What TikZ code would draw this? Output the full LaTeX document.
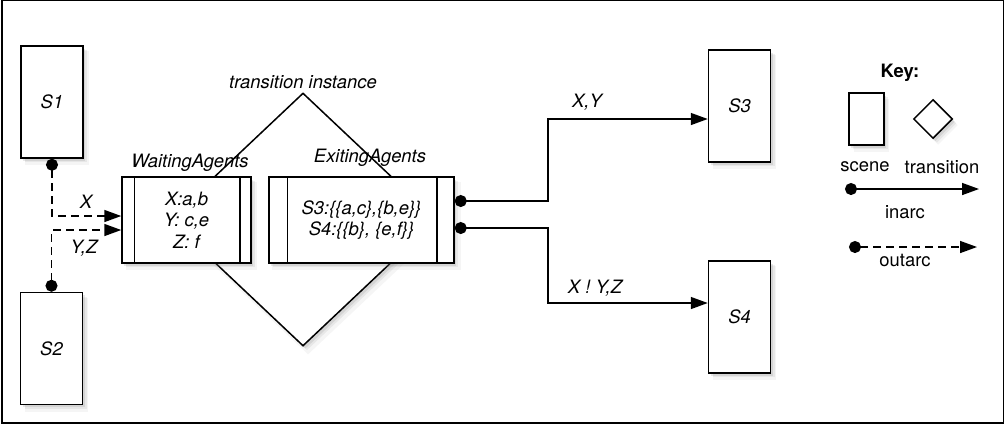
\documentclass[tikz,border=0pt]{standalone}
\usepackage{fontspec}
\setmainfont{TeX Gyre Heros}
\usetikzlibrary{arrows.meta,shapes.geometric,shadows,calc}

\newcommand{\diagfont}{\fontsize{9.2}{10.8}\selectfont}

\tikzset{
  softshadow/.style={
    drop shadow={shadow xshift=2.5pt, shadow yshift=-3pt, shadow scale=1.02, opacity=0.08},
    drop shadow={shadow xshift=2pt, shadow yshift=-2.2pt, opacity=0.12},
    drop shadow={shadow xshift=1.2pt, shadow yshift=-1.4pt, opacity=0.18}},
  scenebox/.style={draw, fill=white, line width=0.75pt, minimum width=31pt, minimum height=56pt,
    inner sep=0pt, font=\diagfont\itshape, softshadow},
  agentbox/.style={draw, fill=white, line width=0.75pt, minimum height=43pt, inner sep=0pt,
    align=center, font=\diagfont\itshape, softshadow},
  transdiamond/.style={diamond, draw, fill=white, line width=0.75pt, inner sep=0pt, softshadow},
  lbl/.style={font=\diagfont\itshape, inner sep=0pt},
  keylbl/.style={font=\diagfont, inner sep=0pt},
  inarc/.style={line width=0.75pt, {Circle[length=6pt]}-{Triangle[length=8.5pt,width=6pt]}},
  outarc/.style={inarc, dash pattern=on 4pt off 2.5pt},
}

\begin{document}
\begin{tikzpicture}[x=0.5pt,y=-0.5pt]
	\useasboundingbox (0,0) rectangle (1004,425);
	\draw[line width=0.8pt] (2,0.5) rectangle (1003.5,423);

	% scenes
	\node[scenebox] (s1) at (52,102) {S1};
	\node[scenebox] (s2) at (51.5,348.5) {S2};
	\node[scenebox] (s3) at (739.5,106) {S3};
	\node[scenebox] (s4) at (739.5,317) {S4};

	% transition instance
	\node[transdiamond, minimum width=134pt, minimum height=126.5pt] (trans) at (303,219.5) {};
	\node[lbl] (translabel) at (303,82) {transition instance};

	\node[agentbox, minimum width=64.5pt] (waiting) at (186.5,220) {X:a,b\\Y: c,e\\Z: f};
	\draw[line width=0.75pt] ([xshift=6.5pt]waiting.north west) -- ([xshift=6.5pt]waiting.south west);
	\draw[line width=0.75pt] ([xshift=-6pt]waiting.north east) -- ([xshift=-6pt]waiting.south east);
	\node[lbl] (waitlabel) at (190,163) {WaitingAgents};

	\node[agentbox, minimum width=92.5pt] (exiting) at (361.5,220) {S3:\{\{a,c\},\{b,e\}\}\\S4:\{\{b\}, \{e,f\}\}};
	\draw[line width=0.75pt] ([xshift=9.5pt]exiting.north west) -- ([xshift=9.5pt]exiting.south west);
	\draw[line width=0.75pt] ([xshift=-9pt]exiting.north east) -- ([xshift=-9pt]exiting.south east);
	\node[lbl] (exitlabel) at (370,158) {ExitingAgents};

	% outarcs into the transition
	\draw[outarc] (s1.south) |- ($(waiting.west)+(0,-4)$);
	\draw[outarc] (s2.north) |- ($(waiting.west)+(0,10)$);
	\node[lbl] (xlab) at (86,202) {X};
	\node[lbl] (yzlab) at (84,248) {Y,Z};

	% inarcs to the next scenes
	\coordinate (xy) at ($(s3.west)+(0,13)$);
	\coordinate (xnyz) at ($(s4.west)+(0,-14)$);
	\draw[inarc] ($(exiting.east)+(0,-19)$) -| (548,119) -- (xy);
	\draw[inarc] ($(exiting.east)+(0,8)$) -| (548,303) -- (xnyz);
	\node[lbl] (xylab) at (587,102) {X,Y};
	\node[lbl] (xnyzlab) at (595,288) {X ! Y,Z};

	% key
	\node[keylbl, font=\diagfont\bfseries] (keylabel) at (900,73) {Key:};
	\node[scenebox, minimum width=17.5pt, minimum height=26pt] (keyscene) at (866.5,119) {};
	\node[transdiamond, minimum width=19.5pt, minimum height=19.5pt] (keytrans) at (933,119) {};
	\node[keylbl] (scenelab) at (865,167) {scene};
	\node[keylbl] (translab) at (942,167) {transition};
	\coordinate (inA) at (845,189);
	\coordinate (inB) at (979,189);
	\draw[inarc] (inA) -- (inB);
	\node[keylbl] (inlab) at (905,212) {inarc};
	\coordinate (outA) at (849,247);
	\coordinate (outB) at (977,247);
	\draw[outarc] (outA) -- (outB);
	\node[keylbl] (outlab) at (905,260) {outarc};
\end{tikzpicture}
\end{document}
